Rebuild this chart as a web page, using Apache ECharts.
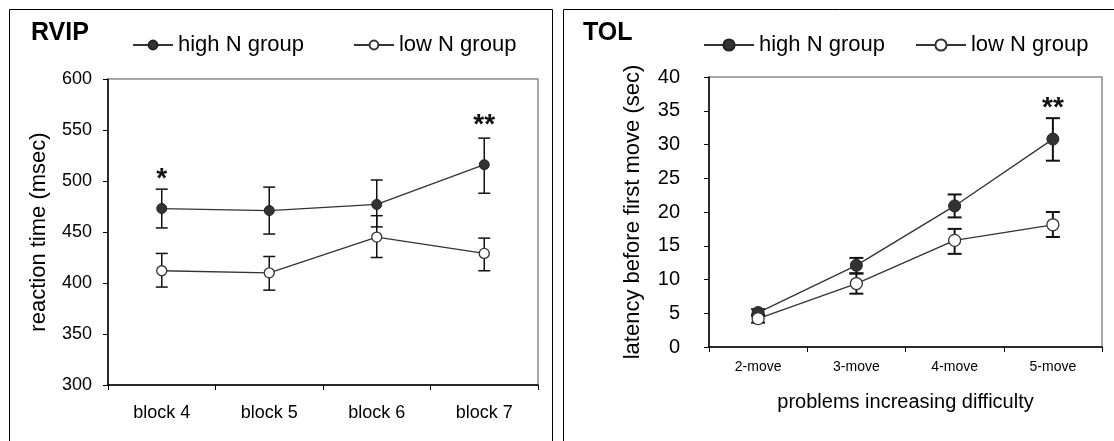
<!DOCTYPE html>
<html><head><meta charset="utf-8">
<script src="https://cdn.jsdelivr.net/npm/echarts@6/dist/echarts.min.js"></script>
<style>html,body{margin:0;padding:0;background:#fff}#c{width:1114px;height:441px}</style>
</head><body><div id="c"></div>
<script>
// ---- RVIP panel data ----
const blocks = ['block 4', 'block 5', 'block 6', 'block 7'];
const rvipHigh   = [473, 471, 477, 516];
const rvipHighLo = [454, 448, 455, 488];
const rvipHighHi = [492, 494, 501, 542];
const rvipLow    = [412, 410, 445, 429];
const rvipLowLo  = [396, 393, 425, 412];
const rvipLowHi  = [429, 426, 466, 444];
const rvipStars  = [['block 4', '*', 502], ['block 7', '**', 555]];

// ---- TOL panel data ----
const moves = ['2-move', '3-move', '4-move', '5-move'];
const tolHigh   = [5.1, 12.1, 20.9, 30.8];
const tolHighLo = [4.6, 10.9, 19.2, 27.6];
const tolHighHi = [5.6, 13.2, 22.6, 33.9];
const tolLow    = [4.2, 9.4, 15.8, 18.1];
const tolLowLo  = [3.6, 7.9, 13.8, 16.3];
const tolLowHi  = [4.8, 10.9, 17.5, 20.0];
const tolStars  = [['5-move', '**', 35.3]];

const seriesNames = ['high N group', 'low N group'];
const FONT = "'Liberation Sans', Arial, sans-serif";

function errSeries(ax, cats, lo, hi, capW, lw) {
  return {
    type: 'custom', xAxisIndex: ax, yAxisIndex: ax, z: 1, silent: true,
    data: cats.map((c, i) => [i, lo[i], hi[i]]),
    encode: { x: 0, y: [1, 2] },
    renderItem(params, api) {
      const x = api.value(0);
      const a = api.coord([x, api.value(1)]);
      const b = api.coord([x, api.value(2)]);
      const style = { stroke: '#111', lineWidth: lw };
      return { type: 'group', children: [
        { type: 'line', shape: { x1: a[0], y1: a[1], x2: b[0], y2: b[1] }, style },
        { type: 'line', shape: { x1: a[0] - capW / 2, y1: a[1], x2: a[0] + capW / 2, y2: a[1] }, style },
        { type: 'line', shape: { x1: b[0] - capW / 2, y1: b[1], x2: b[0] + capW / 2, y2: b[1] }, style }
      ]};
    }
  };
}
function starSeries(ax, cats, stars) {
  return {
    type: 'custom', xAxisIndex: ax, yAxisIndex: ax, z: 5, silent: true,
    data: stars.map(s => [cats.indexOf(s[0]), s[2], s[1]]),
    encode: { x: 0, y: 1 },
    renderItem(params, api) {
      const p = api.coord([api.value(0), api.value(1)]);
      const txt = stars[params.dataIndex][1];
      return { type: 'text', x: p[0], y: p[1], style: {
        text: txt, font: 'bold 28px ' + FONT, fill: '#111', align: 'center', verticalAlign: 'middle' } };
    }
  };
}
function lineSeries(ax, name, data, filled, size) {
  return {
    type: 'line', name, xAxisIndex: ax, yAxisIndex: ax, data, z: 3,
    symbol: 'circle', symbolSize: size,
    lineStyle: { color: '#333', width: 1.3 },
    itemStyle: filled ? { color: '#333', borderColor: '#222', borderWidth: 1 }
                      : { color: '#fff', borderColor: '#333', borderWidth: 1.3 }
  };
}
function yAx(grid, min, max, interval, name, gap, labelSize, margin) {
  return {
    type: 'value', gridIndex: grid, min, max, interval,
    axisLine: { show: true, lineStyle: { color: '#000', width: 1.5 } },
    axisTick: { show: true, length: 5, lineStyle: { color: '#000', width: 1 } },
    axisLabel: { fontSize: labelSize, color: '#000', fontFamily: FONT, margin },
    splitLine: { show: false },
    name, nameLocation: 'middle', nameGap: gap,
    nameTextStyle: { fontSize: 22, color: '#000', fontFamily: FONT }
  };
}
function xAx(grid, cats, labelSize, margin, name) {
  return {
    type: 'category', gridIndex: grid, data: cats, boundaryGap: true,
    axisLine: { lineStyle: { color: '#000', width: 1.5 } },
    axisTick: { show: true, length: 5, lineStyle: { color: '#000', width: 1 } },
    axisLabel: { fontSize: labelSize, color: '#000', fontFamily: FONT, margin },
    splitLine: { show: false },
    name: name || '', nameLocation: 'middle', nameGap: 45,
    nameTextStyle: { fontSize: 20, color: '#000', fontFamily: FONT }
  };
}

const chart = echarts.init(document.getElementById('c'), null, { renderer: 'canvas' });
chart.setOption({
  animation: false,
  backgroundColor: '#fff',
  textStyle: { fontFamily: FONT },
  graphic: [
    { type: 'rect', silent: true, z: -1, shape: { x: 9.5, y: 9.5, width: 543, height: 460 }, style: { fill: 'none', stroke: '#000', lineWidth: 1 } },
    { type: 'rect', silent: true, z: -1, shape: { x: 563.5, y: 9.5, width: 600, height: 460 }, style: { fill: 'none', stroke: '#000', lineWidth: 1 } }
  ],
  title: [
    { text: 'RVIP', left: 31, top: 21, padding: 0, textStyle: { fontSize: 25, fontWeight: 'bold', color: '#000', fontFamily: FONT } },
    { text: 'TOL', left: 583, top: 21, padding: 0, textStyle: { fontSize: 25, fontWeight: 'bold', color: '#000', fontFamily: FONT } }
  ],
  legend: [
    { data: seriesNames, left: 132, top: 34, padding: 0, itemWidth: 40, itemHeight: 11, itemGap: 49,
      textStyle: { fontSize: 22, lineHeight: 22, color: '#000', fontFamily: FONT }, selectedMode: false },
    { data: seriesNames, left: 703, top: 34, padding: 0, itemWidth: 50, itemHeight: 14, itemGap: 30,
      textStyle: { fontSize: 22, lineHeight: 22, color: '#000', fontFamily: FONT }, selectedMode: false }
  ],
  grid: [
    { left: 108, top: 79, width: 430, height: 306, show: true, borderColor: '#8c8c8c', borderWidth: 1.5, backgroundColor: 'transparent' },
    { left: 709, top: 77, width: 393, height: 270, show: true, borderColor: '#8c8c8c', borderWidth: 1.5, backgroundColor: 'transparent' }
  ],
  xAxis: [
    xAx(0, blocks, 18, 19),
    xAx(1, moves, 14, 13, 'problems increasing difficulty')
  ],
  yAxis: [
    yAx(0, 300, 600, 50, 'reaction time (msec)', 58, 18, 16),
    yAx(1, 0, 40, 5, 'latency before first move (sec)', 65, 20, 29)
  ],
  series: [
    errSeries(0, blocks, rvipHighLo, rvipHighHi, 12, 1.5),
    errSeries(0, blocks, rvipLowLo, rvipLowHi, 12, 1.5),
    lineSeries(0, seriesNames[0], rvipHigh, true, 10),
    lineSeries(0, seriesNames[1], rvipLow, false, 10),
    starSeries(0, blocks, rvipStars),
    errSeries(1, moves, tolHighLo, tolHighHi, 14, 2),
    errSeries(1, moves, tolLowLo, tolLowHi, 14, 2),
    lineSeries(1, seriesNames[0], tolHigh, true, 12),
    lineSeries(1, seriesNames[1], tolLow, false, 12),
    starSeries(1, moves, tolStars)
  ]
});
</script>
</body></html>
